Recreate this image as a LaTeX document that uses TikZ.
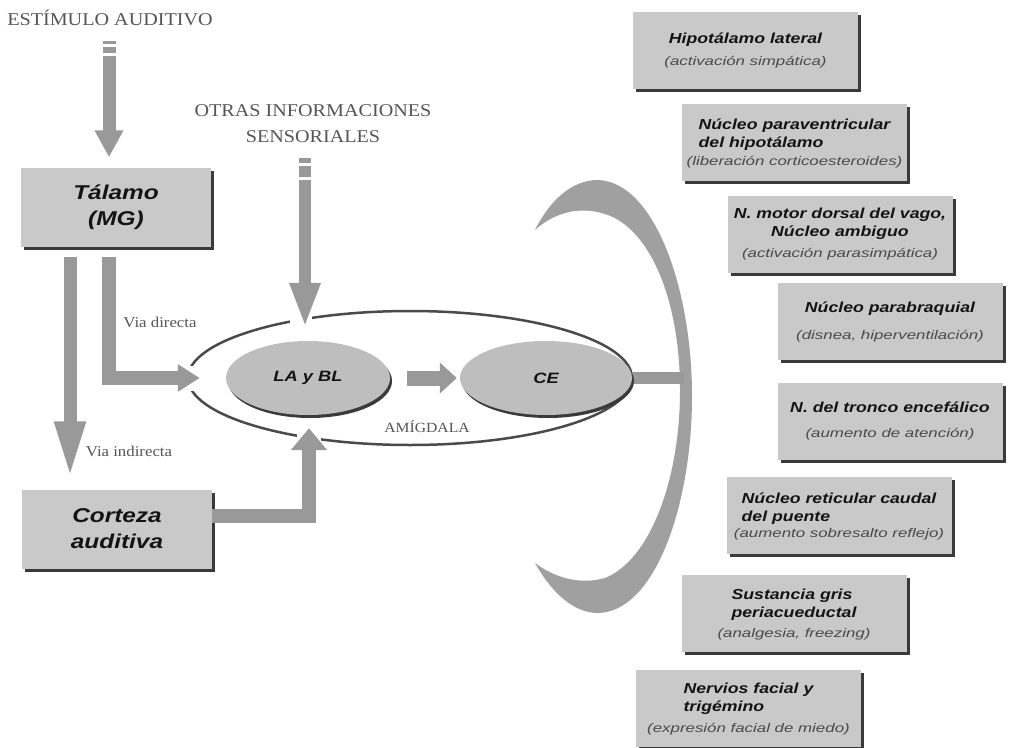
\documentclass[tikz,border=0pt]{standalone}
\usepackage{fontspec}
\setmainfont{Liberation Serif}
\newfontfamily\capfont[FakeStretch=1.12]{Liberation Serif}
\newfontfamily\boldfont[FakeStretch=1.22]{Liberation Sans}
\newfontfamily\subfont[FakeStretch=1.35]{Liberation Sans}
\usetikzlibrary{arrows.meta,shapes.geometric,shadows}
\definecolor{boxgray}{HTML}{C9C9C9}
\definecolor{ovalgray}{HTML}{BEBEBE}
\definecolor{arrowgray}{HTML}{999999}
\definecolor{cresgray}{HTML}{A0A0A0}
\definecolor{shadowcol}{HTML}{3A3A3A}
\definecolor{sertext}{HTML}{555555}
\definecolor{titlecol}{HTML}{141414}
\definecolor{subcol}{HTML}{4A4A4A}
\definecolor{rimcol}{HTML}{4A4A4A}
\newcommand{\boxtitle}[1]{{\boldfont\bfseries\itshape\fontsize{14.5}{18}\selectfont #1}}
\newcommand{\boxsub}[1]{{\subfont\itshape\fontsize{12.5}{15}\selectfont\color{subcol}#1}}
\begin{document}
\begin{tikzpicture}[x=1pt,y=-1pt,
  serif/.style={font=\capfont\fontsize{18}{26}\selectfont, text=sertext, inner sep=0pt},
  smallserif/.style={font=\capfont\fontsize{15}{18}\selectfont, text=sertext, inner sep=0pt},
  graybox/.style={rectangle, fill=boxgray, drop shadow={shadow xshift=3pt,shadow yshift=-3pt,fill=shadowcol,opacity=1}, align=center, text=titlecol, inner sep=2pt},
  rightbox/.style={graybox, minimum width=225pt, minimum height=77pt, font=\fontsize{14}{18}\selectfont},
  leftbox/.style={graybox, minimum width=190pt, minimum height=79pt, font=\boldfont\bfseries\itshape\fontsize{20}{26}\selectfont},
  oval/.style={ellipse, fill=ovalgray, drop shadow={shadow xshift=2pt,shadow yshift=-3pt,fill=shadowcol,opacity=1}, inner sep=0pt, text=titlecol, font=\boldfont\bfseries\itshape\fontsize{15}{18}\selectfont},
  fat/.style={draw=arrowgray, line width=13pt},
  stripe/.style={fill=arrowgray},
]
\useasboundingbox (0,0) rectangle (1012,747);
\fill[white] (0,0) rectangle (1012,747);

% crescent
\fill[cresgray] (535,230) .. controls (550,200) and (572,180) .. (598,180)
  .. controls (655,182) and (692,290) .. (692,396)
  .. controls (692,505) and (655,612) .. (598,613)
  .. controls (572,613) and (550,590) .. (535,563)
  .. controls (555,578) and (580,585) .. (605,578)
  .. controls (650,560) and (680,480) .. (680,390)
  .. controls (680,300) and (650,228) .. (605,214)
  .. controls (580,206) and (555,212) .. cycle;
\coordinate (cres) at (684,378);

% amygdala outline
\node[ellipse, draw=rimcol, line width=2.5pt, minimum width=444pt, minimum height=134pt, inner sep=0pt] (amig) at (410,378) {};
\fill[white] (290,302) rectangle (312,332);
\fill[white] (297,428) rectangle (321,455);
\fill[white] (182,366) rectangle (205,391);

% ovals
\draw[fat, line width=12pt] (546,378) -- (cres);
\node[oval, minimum width=164pt, minimum height=74pt] (labl) at (308,378) {LA y BL};
\node[oval, minimum width=172pt, minimum height=74pt] (ce) at (546,378) {CE};
\node[smallserif, font=\capfont\fontsize{14}{16}\selectfont] (amiglab) at (427,427) {AMÍGDALA};

% left boxes
\node[leftbox] (talamo) at (116,207) {Tálamo\\(MG)};
\node[leftbox] (corteza) at (117,529) {Corteza\\auditiva};

% texts
\node[serif] (estim) at (110,18) {ESTÍMULO AUDITIVO};
\node[serif, align=center] (otras) at (313,124) {OTRAS INFORMACIONES\\SENSORIALES};
\node[smallserif] (vdir) at (160,322) {Via directa};
\node[smallserif] (vind) at (129,451) {Via indirecta};

% arrows
\fill[stripe] (102.5,41) rectangle (115.5,44);
\fill[stripe] (102.5,47) rectangle (115.5,53);
\coordinate (estimtop) at (109,56);
\draw[fat, -{Triangle[length=27pt,width=27pt]}, shorten >=10pt] (estimtop) -- (estimtop |- talamo.north);

\fill[stripe] (299,158) rectangle (311,163);
\fill[stripe] (299,166) rectangle (311,177);
\coordinate (otrastop) at (305,180);
\draw[fat, line width=12pt, -{Triangle[length=45pt,width=28pt]}, shorten >=13pt] (otrastop) -- (otrastop |- labl.north);

\draw[fat, -{Triangle[length=58pt,width=28pt]}] ([xshift=-46pt,yshift=-10pt]talamo.south) -- ([xshift=-47pt,yshift=10pt]corteza.north);
\draw[fat, line width=14pt, -{Triangle[length=22pt,width=26pt]}] ([xshift=-7pt,yshift=-10pt]talamo.south) |- ([xshift=-26pt]labl.west);
\draw[fat, line width=14pt, -{Triangle[length=22pt,width=35pt]}] ([yshift=13pt]corteza.east) -| ([xshift=1pt,yshift=-13pt]labl.south);
\draw[fat, line width=15pt, -{Triangle[length=17pt,width=30pt]}, shorten <=17pt, shorten >=3pt] (labl.east) -- (ce.west);

% right boxes
\node[rightbox] (b1) at (745.5,50.5) {\boxtitle{Hipotálamo lateral}\\[4pt]\boxsub{(activación simpática)}};
\node[rightbox] (b2) at (794.5,142.5) {\boxtitle{\begin{tabular}{@{}l@{}}Núcleo paraventricular\\del hipotálamo\end{tabular}}\\[2pt]\boxsub{(liberación corticoesteroides)}};
\node[rightbox] (b3) at (840,234) {\boxtitle{N. motor dorsal del vago,}\\\boxtitle{Núcleo ambiguo}\\[3pt]\boxsub{(activación parasimpática)}};
\node[rightbox] (b4) at (890,321.5) {\boxtitle{Núcleo parabraquial}\\[9pt]\boxsub{(disnea, hiperventilación)}};
\node[rightbox] (b5) at (890,421) {\boxtitle{N. del tronco encefálico}\\[7pt]\boxsub{(aumento de atención)}};
\node[rightbox] (b6) at (839,515.5) {\boxtitle{\begin{tabular}{@{}l@{}}Núcleo reticular caudal\\del puente\end{tabular}}\\[0pt]\boxsub{(aumento sobresalto reflejo)}};
\node[rightbox] (b7) at (794,613.5) {\boxtitle{\begin{tabular}{@{}l@{}}Sustancia gris\\periacueductal\end{tabular}}\\[5pt]\boxsub{(analgesia, freezing)}};
\node[rightbox] (b8) at (748.5,708) {\boxtitle{\begin{tabular}{@{}l@{}}Nervios facial y\\trigémino\end{tabular}}\\[5pt]\boxsub{(expresión facial de miedo)}};
\end{tikzpicture}
\end{document}
